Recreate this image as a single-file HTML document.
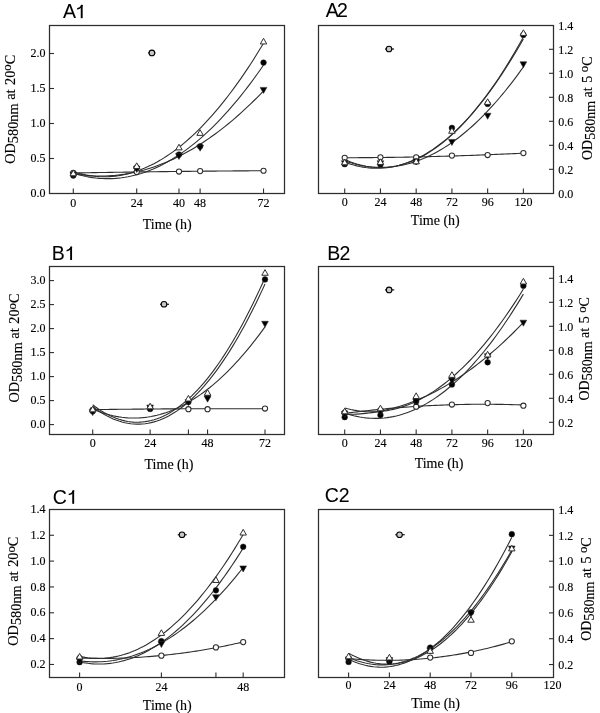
<!DOCTYPE html>
<html><head><meta charset="utf-8"><style>
html,body{margin:0;padding:0;background:#fff;}
svg{display:block;filter:grayscale(1);}
text{stroke:#000;stroke-width:0.14px;}
</style></head><body>
<svg width="600" height="713" viewBox="0 0 600 713">
<rect width="600" height="713" fill="#fff"/>
<path d="M73.3,173.01 L76.52,172.95 L79.75,172.89 L82.97,172.83 L86.2,172.78 L89.42,172.72 L92.64,172.66 L95.87,172.61 L99.09,172.56 L102.32,172.5 L105.54,172.45 L108.77,172.4 L111.99,172.35 L115.21,172.3 L118.44,172.25 L121.66,172.2 L124.89,172.15 L128.11,172.1 L131.33,172.06 L134.56,172.01 L137.78,171.96 L141.01,171.92 L144.23,171.87 L147.46,171.83 L150.68,171.79 L153.9,171.75 L157.13,171.7 L160.35,171.66 L163.58,171.62 L166.8,171.58 L170.02,171.55 L173.25,171.51 L176.47,171.47 L179.7,171.43 L182.92,171.4 L186.14,171.36 L189.37,171.33 L192.59,171.29 L195.82,171.26 L199.04,171.23 L202.27,171.2 L205.49,171.17 L208.71,171.14 L211.94,171.11 L215.16,171.08 L218.39,171.05 L221.61,171.02 L224.83,170.99 L228.06,170.97 L231.28,170.94 L234.51,170.92 L237.73,170.89 L240.96,170.87 L244.18,170.85 L247.4,170.83 L250.63,170.8 L253.85,170.78 L257.08,170.76 L260.3,170.74 L263.52,170.73" fill="none" stroke="#2e2e2e" stroke-width="1.1"/>
<path d="M73.3,173.16 L76.52,174.15 L79.75,175.03 L82.97,175.83 L86.2,176.52 L89.42,177.12 L92.64,177.62 L95.87,178.02 L99.09,178.33 L102.32,178.53 L105.54,178.65 L108.77,178.66 L111.99,178.58 L115.21,178.4 L118.44,178.12 L121.66,177.74 L124.89,177.27 L128.11,176.7 L131.33,176.04 L134.56,175.27 L137.78,174.41 L141.01,173.46 L144.23,172.4 L147.46,171.25 L150.68,170 L153.9,168.65 L157.13,167.21 L160.35,165.67 L163.58,164.03 L166.8,162.3 L170.02,160.46 L173.25,158.53 L176.47,156.51 L179.7,154.38 L182.92,152.16 L186.14,149.84 L189.37,147.43 L192.59,144.92 L195.82,142.31 L199.04,139.6 L202.27,136.8 L205.49,133.9 L208.71,130.9 L211.94,127.8 L215.16,124.61 L218.39,121.32 L221.61,117.93 L224.83,114.45 L228.06,110.87 L231.28,107.19 L234.51,103.41 L237.73,99.54 L240.96,95.57 L244.18,91.5 L247.4,87.34 L250.63,83.08 L253.85,78.72 L257.08,74.26 L260.3,69.71 L263.52,65.06" fill="none" stroke="#2e2e2e" stroke-width="1.1"/>
<path d="M73.3,173.6 L76.52,174.13 L79.75,174.6 L82.97,175 L86.2,175.33 L89.42,175.6 L92.64,175.8 L95.87,175.94 L99.09,176 L102.32,176 L105.54,175.94 L108.77,175.8 L111.99,175.6 L115.21,175.34 L118.44,175 L121.66,174.6 L124.89,174.14 L128.11,173.6 L131.33,173 L134.56,172.34 L137.78,171.6 L141.01,170.8 L144.23,169.94 L147.46,169 L150.68,168 L153.9,166.94 L157.13,165.8 L160.35,164.6 L163.58,163.33 L166.8,162 L170.02,160.6 L173.25,159.13 L176.47,157.6 L179.7,156 L182.92,154.33 L186.14,152.59 L189.37,150.79 L192.59,148.92 L195.82,146.99 L199.04,144.99 L202.27,142.92 L205.49,140.78 L208.71,138.58 L211.94,136.31 L215.16,133.98 L218.39,131.58 L221.61,129.11 L224.83,126.57 L228.06,123.97 L231.28,121.3 L234.51,118.57 L237.73,115.77 L240.96,112.9 L244.18,109.96 L247.4,106.96 L250.63,103.89 L253.85,100.75 L257.08,97.55 L260.3,94.28 L263.52,90.95" fill="none" stroke="#2e2e2e" stroke-width="1.1"/>
<path d="M73.3,171.76 L76.52,172.75 L79.75,173.62 L82.97,174.39 L86.2,175.05 L89.42,175.6 L92.64,176.04 L95.87,176.38 L99.09,176.6 L102.32,176.71 L105.54,176.72 L108.77,176.61 L111.99,176.4 L115.21,176.08 L118.44,175.65 L121.66,175.1 L124.89,174.45 L128.11,173.69 L131.33,172.83 L134.56,171.85 L137.78,170.76 L141.01,169.56 L144.23,168.26 L147.46,166.84 L150.68,165.32 L153.9,163.69 L157.13,161.95 L160.35,160.1 L163.58,158.14 L166.8,156.07 L170.02,153.89 L173.25,151.6 L176.47,149.2 L179.7,146.7 L182.92,144.08 L186.14,141.36 L189.37,138.52 L192.59,135.58 L195.82,132.53 L199.04,129.37 L202.27,126.1 L205.49,122.72 L208.71,119.23 L211.94,115.63 L215.16,111.92 L218.39,108.11 L221.61,104.18 L224.83,100.15 L228.06,96.01 L231.28,91.75 L234.51,87.39 L237.73,82.92 L240.96,78.34 L244.18,73.65 L247.4,68.85 L250.63,63.94 L253.85,58.93 L257.08,53.8 L260.3,48.57 L263.52,43.22" fill="none" stroke="#2e2e2e" stroke-width="1.1"/>
<circle cx="73.3" cy="172.99" r="2.6" fill="#fff" stroke="#2e2e2e" stroke-width="1.05"/>
<circle cx="136.71" cy="172.01" r="2.6" fill="#fff" stroke="#2e2e2e" stroke-width="1.05"/>
<circle cx="178.98" cy="171.52" r="2.6" fill="#fff" stroke="#2e2e2e" stroke-width="1.05"/>
<circle cx="200.12" cy="171.1" r="2.6" fill="#fff" stroke="#2e2e2e" stroke-width="1.05"/>
<circle cx="263.52" cy="170.75" r="2.6" fill="#fff" stroke="#2e2e2e" stroke-width="1.05"/>
<circle cx="73.3" cy="175.58" r="2.85" fill="#000" stroke="#2e2e2e" stroke-width="0.5"/>
<circle cx="136.71" cy="167.53" r="2.85" fill="#000" stroke="#2e2e2e" stroke-width="0.5"/>
<circle cx="178.98" cy="154.51" r="2.85" fill="#000" stroke="#2e2e2e" stroke-width="0.5"/>
<circle cx="200.12" cy="146.25" r="2.85" fill="#000" stroke="#2e2e2e" stroke-width="0.5"/>
<circle cx="263.52" cy="62.6" r="2.85" fill="#000" stroke="#2e2e2e" stroke-width="0.5"/>
<polygon points="69.95,172.1 76.65,172.1 73.3,178.1" fill="#000" stroke="#2e2e2e" stroke-width="0.6"/>
<polygon points="133.36,166.43 140.06,166.43 136.71,172.43" fill="#000" stroke="#2e2e2e" stroke-width="0.6"/>
<polygon points="175.63,153.48 182.33,153.48 178.98,159.48" fill="#000" stroke="#2e2e2e" stroke-width="0.6"/>
<polygon points="196.77,145.15 203.47,145.15 200.12,151.15" fill="#000" stroke="#2e2e2e" stroke-width="0.6"/>
<polygon points="260.17,87.4 266.87,87.4 263.52,93.4" fill="#000" stroke="#2e2e2e" stroke-width="0.6"/>
<polygon points="73.3,170.11 76.55,175.76 70.05,175.76" fill="#fff" stroke="#2e2e2e" stroke-width="1" stroke-linejoin="miter"/>
<polygon points="136.71,162.83 139.96,168.48 133.46,168.48" fill="#fff" stroke="#2e2e2e" stroke-width="1" stroke-linejoin="miter"/>
<polygon points="178.98,144.21 182.23,149.86 175.73,149.86" fill="#fff" stroke="#2e2e2e" stroke-width="1" stroke-linejoin="miter"/>
<polygon points="200.12,129.72 203.37,135.37 196.87,135.37" fill="#fff" stroke="#2e2e2e" stroke-width="1" stroke-linejoin="miter"/>
<polygon points="263.52,38.3 266.77,43.95 260.27,43.95" fill="#fff" stroke="#2e2e2e" stroke-width="1" stroke-linejoin="miter"/>
<line x1="148" y1="52.9" x2="155.5" y2="52.9" stroke="#000" stroke-width="1.1"/>
<circle cx="151.9" cy="52.9" r="2.8" fill="#c8c8c8" stroke="#000" stroke-width="1.1"/>
<rect x="49.5" y="25.5" width="235" height="168" fill="none" stroke="#2e2e2e" stroke-width="1.25"/>
<line x1="73.3" y1="193.5" x2="73.3" y2="188.5" stroke="#2e2e2e" stroke-width="1.1"/>
<line x1="136.71" y1="193.5" x2="136.71" y2="188.5" stroke="#2e2e2e" stroke-width="1.1"/>
<line x1="178.98" y1="193.5" x2="178.98" y2="188.5" stroke="#2e2e2e" stroke-width="1.1"/>
<line x1="200.12" y1="193.5" x2="200.12" y2="188.5" stroke="#2e2e2e" stroke-width="1.1"/>
<line x1="263.52" y1="193.5" x2="263.52" y2="188.5" stroke="#2e2e2e" stroke-width="1.1"/>
<text x="73.3" y="206.7" text-anchor="middle" font-family='"Liberation Serif", serif' font-size="12">0</text>
<text x="136.71" y="206.7" text-anchor="middle" font-family='"Liberation Serif", serif' font-size="12">24</text>
<text x="178.98" y="206.7" text-anchor="middle" font-family='"Liberation Serif", serif' font-size="12">40</text>
<text x="200.12" y="206.7" text-anchor="middle" font-family='"Liberation Serif", serif' font-size="12">48</text>
<text x="263.52" y="206.7" text-anchor="middle" font-family='"Liberation Serif", serif' font-size="12">72</text>
<text x="45.6" y="197.1" text-anchor="end" font-family='"Liberation Serif", serif' font-size="12">0.0</text>
<line x1="49.5" y1="158.5" x2="54" y2="158.5" stroke="#2e2e2e" stroke-width="1.1"/>
<text x="45.6" y="162.1" text-anchor="end" font-family='"Liberation Serif", serif' font-size="12">0.5</text>
<line x1="49.5" y1="123.5" x2="54" y2="123.5" stroke="#2e2e2e" stroke-width="1.1"/>
<text x="45.6" y="127.1" text-anchor="end" font-family='"Liberation Serif", serif' font-size="12">1.0</text>
<line x1="49.5" y1="88.5" x2="54" y2="88.5" stroke="#2e2e2e" stroke-width="1.1"/>
<text x="45.6" y="92.1" text-anchor="end" font-family='"Liberation Serif", serif' font-size="12">1.5</text>
<line x1="49.5" y1="53.5" x2="54" y2="53.5" stroke="#2e2e2e" stroke-width="1.1"/>
<text x="45.6" y="57.1" text-anchor="end" font-family='"Liberation Serif", serif' font-size="12">2.0</text>
<text x="167.15" y="228.5" text-anchor="middle" font-family='"Liberation Serif", serif' font-size="14">Time (h)</text>
<text x="63" y="18.2" font-family='"Liberation Sans", sans-serif' font-size="19.5" style="stroke-width:0.05px">A</text>
<path d="M81.7,5 V18.2" stroke="#000" stroke-width="1.9" fill="none"/>
<path d="M82.3,4.8 L81.1,6.8 C80.1,8.1 78.7,8.7 77.2,8.9" stroke="#000" stroke-width="1.6" fill="none"/>
<text transform="translate(14.9,163.8) rotate(-90)" font-family='"Liberation Serif", serif' font-size="14.3">OD<tspan dy="2.9">580nm</tspan><tspan dy="-2.9"> at </tspan><tspan dx="1">20</tspan><tspan dy="-3.7" font-size="12.8">o</tspan><tspan dy="3.7">C</tspan></text>
<path d="M344.7,157.73 L347.73,157.72 L350.76,157.71 L353.79,157.7 L356.81,157.69 L359.84,157.67 L362.87,157.66 L365.9,157.64 L368.93,157.61 L371.96,157.59 L374.98,157.56 L378.01,157.53 L381.04,157.5 L384.07,157.46 L387.1,157.42 L390.13,157.38 L393.16,157.34 L396.18,157.29 L399.21,157.25 L402.24,157.2 L405.27,157.14 L408.3,157.09 L411.33,157.03 L414.35,156.97 L417.38,156.91 L420.41,156.84 L423.44,156.78 L426.47,156.71 L429.5,156.63 L432.53,156.56 L435.55,156.48 L438.58,156.4 L441.61,156.32 L444.64,156.23 L447.67,156.15 L450.7,156.06 L453.73,155.97 L456.75,155.87 L459.78,155.77 L462.81,155.67 L465.84,155.57 L468.87,155.47 L471.9,155.36 L474.92,155.25 L477.95,155.14 L480.98,155.03 L484.01,154.91 L487.04,154.79 L490.07,154.67 L493.1,154.54 L496.12,154.42 L499.15,154.29 L502.18,154.16 L505.21,154.02 L508.24,153.89 L511.27,153.75 L514.29,153.61 L517.32,153.46 L520.35,153.32 L523.38,153.17" fill="none" stroke="#2e2e2e" stroke-width="1.1"/>
<path d="M344.7,162.04 L347.73,163.16 L350.76,164.17 L353.79,165.06 L356.81,165.85 L359.84,166.53 L362.87,167.09 L365.9,167.55 L368.93,167.89 L371.96,168.13 L374.98,168.25 L378.01,168.26 L381.04,168.17 L384.07,167.96 L387.1,167.64 L390.13,167.21 L393.16,166.67 L396.18,166.02 L399.21,165.26 L402.24,164.39 L405.27,163.41 L408.3,162.32 L411.33,161.12 L414.35,159.8 L417.38,158.38 L420.41,156.85 L423.44,155.2 L426.47,153.45 L429.5,151.58 L432.53,149.61 L435.55,147.52 L438.58,145.32 L441.61,143.02 L444.64,140.6 L447.67,138.07 L450.7,135.43 L453.73,132.68 L456.75,129.82 L459.78,126.85 L462.81,123.77 L465.84,120.58 L468.87,117.28 L471.9,113.87 L474.92,110.34 L477.95,106.71 L480.98,102.97 L484.01,99.11 L487.04,95.15 L490.07,91.07 L493.1,86.89 L496.12,82.59 L499.15,78.19 L502.18,73.67 L505.21,69.04 L508.24,64.3 L511.27,59.45 L514.29,54.49 L517.32,49.43 L520.35,44.24 L523.38,38.95" fill="none" stroke="#2e2e2e" stroke-width="1.1"/>
<path d="M344.7,160.84 L347.73,161.88 L350.76,162.84 L353.79,163.71 L356.81,164.48 L359.84,165.17 L362.87,165.76 L365.9,166.26 L368.93,166.67 L371.96,166.99 L374.98,167.22 L378.01,167.36 L381.04,167.41 L384.07,167.36 L387.1,167.23 L390.13,167 L393.16,166.69 L396.18,166.28 L399.21,165.78 L402.24,165.19 L405.27,164.51 L408.3,163.74 L411.33,162.87 L414.35,161.92 L417.38,160.88 L420.41,159.74 L423.44,158.51 L426.47,157.19 L429.5,155.79 L432.53,154.29 L435.55,152.69 L438.58,151.01 L441.61,149.24 L444.64,147.37 L447.67,145.42 L450.7,143.37 L453.73,141.24 L456.75,139.01 L459.78,136.69 L462.81,134.28 L465.84,131.78 L468.87,129.19 L471.9,126.5 L474.92,123.73 L477.95,120.86 L480.98,117.91 L484.01,114.86 L487.04,111.72 L490.07,108.49 L493.1,105.17 L496.12,101.76 L499.15,98.26 L502.18,94.66 L505.21,90.98 L508.24,87.2 L511.27,83.34 L514.29,79.38 L517.32,75.33 L520.35,71.19 L523.38,66.96" fill="none" stroke="#2e2e2e" stroke-width="1.1"/>
<path d="M344.7,159.46 L347.73,160.78 L350.76,161.97 L353.79,163.06 L356.81,164.02 L359.84,164.87 L362.87,165.6 L365.9,166.21 L368.93,166.71 L371.96,167.09 L374.98,167.36 L378.01,167.5 L381.04,167.53 L384.07,167.44 L387.1,167.24 L390.13,166.92 L393.16,166.48 L396.18,165.92 L399.21,165.25 L402.24,164.46 L405.27,163.55 L408.3,162.53 L411.33,161.39 L414.35,160.13 L417.38,158.76 L420.41,157.27 L423.44,155.66 L426.47,153.93 L429.5,152.09 L432.53,150.13 L435.55,148.06 L438.58,145.86 L441.61,143.55 L444.64,141.13 L447.67,138.58 L450.7,135.92 L453.73,133.15 L456.75,130.25 L459.78,127.24 L462.81,124.11 L465.84,120.86 L468.87,117.5 L471.9,114.02 L474.92,110.43 L477.95,106.71 L480.98,102.88 L484.01,98.93 L487.04,94.87 L490.07,90.69 L493.1,86.39 L496.12,81.97 L499.15,77.44 L502.18,72.79 L505.21,68.03 L508.24,63.14 L511.27,58.14 L514.29,53.03 L517.32,47.79 L520.35,42.44 L523.38,36.97" fill="none" stroke="#2e2e2e" stroke-width="1.1"/>
<circle cx="344.7" cy="157.78" r="2.6" fill="#fff" stroke="#2e2e2e" stroke-width="1.05"/>
<circle cx="380.44" cy="157.3" r="2.6" fill="#fff" stroke="#2e2e2e" stroke-width="1.05"/>
<circle cx="416.17" cy="157.3" r="2.6" fill="#fff" stroke="#2e2e2e" stroke-width="1.05"/>
<circle cx="451.91" cy="155.62" r="2.6" fill="#fff" stroke="#2e2e2e" stroke-width="1.05"/>
<circle cx="487.64" cy="155.02" r="2.6" fill="#fff" stroke="#2e2e2e" stroke-width="1.05"/>
<circle cx="523.38" cy="153.1" r="2.6" fill="#fff" stroke="#2e2e2e" stroke-width="1.05"/>
<circle cx="344.7" cy="164.14" r="2.85" fill="#000" stroke="#2e2e2e" stroke-width="0.5"/>
<circle cx="380.44" cy="164.5" r="2.85" fill="#000" stroke="#2e2e2e" stroke-width="0.5"/>
<circle cx="416.17" cy="161.5" r="2.85" fill="#000" stroke="#2e2e2e" stroke-width="0.5"/>
<circle cx="451.91" cy="127.9" r="2.85" fill="#000" stroke="#2e2e2e" stroke-width="0.5"/>
<circle cx="487.64" cy="103.9" r="2.85" fill="#000" stroke="#2e2e2e" stroke-width="0.5"/>
<circle cx="523.38" cy="34.9" r="2.85" fill="#000" stroke="#2e2e2e" stroke-width="0.5"/>
<polygon points="341.35,160.8 348.05,160.8 344.7,166.8" fill="#000" stroke="#2e2e2e" stroke-width="0.6"/>
<polygon points="377.09,160.8 383.79,160.8 380.44,166.8" fill="#000" stroke="#2e2e2e" stroke-width="0.6"/>
<polygon points="412.82,159 419.52,159 416.17,165" fill="#000" stroke="#2e2e2e" stroke-width="0.6"/>
<polygon points="448.56,139.44 455.26,139.44 451.91,145.44" fill="#000" stroke="#2e2e2e" stroke-width="0.6"/>
<polygon points="484.29,113.28 490.99,113.28 487.64,119.28" fill="#000" stroke="#2e2e2e" stroke-width="0.6"/>
<polygon points="520.03,61.8 526.73,61.8 523.38,67.8" fill="#000" stroke="#2e2e2e" stroke-width="0.6"/>
<polygon points="344.7,159.16 347.95,164.81 341.45,164.81" fill="#fff" stroke="#2e2e2e" stroke-width="1" stroke-linejoin="miter"/>
<polygon points="380.44,158.8 383.69,164.45 377.19,164.45" fill="#fff" stroke="#2e2e2e" stroke-width="1" stroke-linejoin="miter"/>
<polygon points="416.17,158.2 419.42,163.85 412.92,163.85" fill="#fff" stroke="#2e2e2e" stroke-width="1" stroke-linejoin="miter"/>
<polygon points="451.91,127.6 455.16,133.25 448.66,133.25" fill="#fff" stroke="#2e2e2e" stroke-width="1" stroke-linejoin="miter"/>
<polygon points="487.64,98.8 490.89,104.45 484.39,104.45" fill="#fff" stroke="#2e2e2e" stroke-width="1" stroke-linejoin="miter"/>
<polygon points="523.38,29.8 526.63,35.45 520.13,35.45" fill="#fff" stroke="#2e2e2e" stroke-width="1" stroke-linejoin="miter"/>
<line x1="385" y1="49" x2="394" y2="49" stroke="#000" stroke-width="1.1"/>
<circle cx="389" cy="49" r="2.8" fill="#c8c8c8" stroke="#000" stroke-width="1.1"/>
<rect x="318.5" y="25.5" width="235" height="168" fill="none" stroke="#2e2e2e" stroke-width="1.25"/>
<line x1="344.7" y1="193.5" x2="344.7" y2="188.5" stroke="#2e2e2e" stroke-width="1.1"/>
<line x1="380.44" y1="193.5" x2="380.44" y2="188.5" stroke="#2e2e2e" stroke-width="1.1"/>
<line x1="416.17" y1="193.5" x2="416.17" y2="188.5" stroke="#2e2e2e" stroke-width="1.1"/>
<line x1="451.91" y1="193.5" x2="451.91" y2="188.5" stroke="#2e2e2e" stroke-width="1.1"/>
<line x1="487.64" y1="193.5" x2="487.64" y2="188.5" stroke="#2e2e2e" stroke-width="1.1"/>
<line x1="523.38" y1="193.5" x2="523.38" y2="188.5" stroke="#2e2e2e" stroke-width="1.1"/>
<text x="344.7" y="206.3" text-anchor="middle" font-family='"Liberation Serif", serif' font-size="12">0</text>
<text x="380.44" y="206.3" text-anchor="middle" font-family='"Liberation Serif", serif' font-size="12">24</text>
<text x="416.17" y="206.3" text-anchor="middle" font-family='"Liberation Serif", serif' font-size="12">48</text>
<text x="451.91" y="206.3" text-anchor="middle" font-family='"Liberation Serif", serif' font-size="12">72</text>
<text x="487.64" y="206.3" text-anchor="middle" font-family='"Liberation Serif", serif' font-size="12">96</text>
<text x="523.38" y="206.3" text-anchor="middle" font-family='"Liberation Serif", serif' font-size="12">120</text>
<text x="558.3" y="197.5" font-family='"Liberation Serif", serif' font-size="12">0.0</text>
<line x1="553.5" y1="169.3" x2="549" y2="169.3" stroke="#2e2e2e" stroke-width="1.1"/>
<text x="558.3" y="173.5" font-family='"Liberation Serif", serif' font-size="12">0.2</text>
<line x1="553.5" y1="145.3" x2="549" y2="145.3" stroke="#2e2e2e" stroke-width="1.1"/>
<text x="558.3" y="149.5" font-family='"Liberation Serif", serif' font-size="12">0.4</text>
<line x1="553.5" y1="121.3" x2="549" y2="121.3" stroke="#2e2e2e" stroke-width="1.1"/>
<text x="558.3" y="125.5" font-family='"Liberation Serif", serif' font-size="12">0.6</text>
<line x1="553.5" y1="97.3" x2="549" y2="97.3" stroke="#2e2e2e" stroke-width="1.1"/>
<text x="558.3" y="101.5" font-family='"Liberation Serif", serif' font-size="12">0.8</text>
<line x1="553.5" y1="73.3" x2="549" y2="73.3" stroke="#2e2e2e" stroke-width="1.1"/>
<text x="558.3" y="77.5" font-family='"Liberation Serif", serif' font-size="12">1.0</text>
<line x1="553.5" y1="49.3" x2="549" y2="49.3" stroke="#2e2e2e" stroke-width="1.1"/>
<text x="558.3" y="53.5" font-family='"Liberation Serif", serif' font-size="12">1.2</text>
<text x="558.3" y="29.5" font-family='"Liberation Serif", serif' font-size="12">1.4</text>
<text x="435.3" y="225.4" text-anchor="middle" font-family='"Liberation Serif", serif' font-size="14">Time (h)</text>
<text x="325.8" y="17.1" font-family='"Liberation Sans", sans-serif' font-size="19.5" style="stroke-width:0.05px">A</text>
<text x="337.0" y="17.1" font-family='"Liberation Sans", sans-serif' font-size="19.5" style="stroke-width:0.05px">2</text>
<text transform="translate(592,160.0) rotate(-90)" font-family='"Liberation Serif", serif' font-size="14.0">OD<tspan dy="2.9">580nm</tspan><tspan dy="-2.9"> at </tspan><tspan dx="1">5 </tspan><tspan dy="-3.7" font-size="12.8">o</tspan><tspan dy="3.7">C</tspan></text>
<path d="M92.7,409.65 L95.62,409.61 L98.54,409.57 L101.46,409.53 L104.38,409.5 L107.3,409.46 L110.22,409.42 L113.14,409.39 L116.06,409.35 L118.98,409.32 L121.9,409.29 L124.82,409.25 L127.74,409.22 L130.66,409.19 L133.58,409.16 L136.5,409.14 L139.42,409.11 L142.34,409.08 L145.26,409.06 L148.19,409.03 L151.11,409.01 L154.03,408.99 L156.95,408.96 L159.87,408.94 L162.79,408.92 L165.71,408.9 L168.63,408.88 L171.55,408.87 L174.47,408.85 L177.39,408.83 L180.31,408.82 L183.23,408.81 L186.15,408.79 L189.07,408.78 L191.99,408.77 L194.91,408.76 L197.83,408.75 L200.75,408.74 L203.67,408.73 L206.59,408.73 L209.51,408.72 L212.43,408.72 L215.35,408.71 L218.27,408.71 L221.19,408.71 L224.11,408.7 L227.03,408.7 L229.95,408.7 L232.87,408.7 L235.79,408.71 L238.71,408.71 L241.63,408.71 L244.55,408.72 L247.47,408.72 L250.39,408.73 L253.31,408.74 L256.24,408.75 L259.16,408.76 L262.08,408.77 L265,408.78" fill="none" stroke="#2e2e2e" stroke-width="1.1"/>
<path d="M92.7,406.55 L95.62,408.75 L98.54,410.82 L101.46,412.73 L104.38,414.49 L107.3,416.11 L110.22,417.58 L113.14,418.9 L116.06,420.08 L118.98,421.1 L121.9,421.98 L124.82,422.71 L127.74,423.3 L130.66,423.73 L133.58,424.02 L136.5,424.16 L139.42,424.15 L142.34,424 L145.26,423.69 L148.19,423.24 L151.11,422.64 L154.03,421.89 L156.95,421 L159.87,419.96 L162.79,418.77 L165.71,417.43 L168.63,415.94 L171.55,414.31 L174.47,412.53 L177.39,410.6 L180.31,408.52 L183.23,406.3 L186.15,403.93 L189.07,401.4 L191.99,398.74 L194.91,395.92 L197.83,392.96 L200.75,389.85 L203.67,386.59 L206.59,383.18 L209.51,379.63 L212.43,375.92 L215.35,372.07 L218.27,368.07 L221.19,363.93 L224.11,359.64 L227.03,355.19 L229.95,350.6 L232.87,345.87 L235.79,340.98 L238.71,335.95 L241.63,330.77 L244.55,325.44 L247.47,319.97 L250.39,314.34 L253.31,308.57 L256.24,302.65 L259.16,296.58 L262.08,290.37 L265,284.01" fill="none" stroke="#2e2e2e" stroke-width="1.1"/>
<path d="M92.7,409.05 L95.62,410.29 L98.54,411.43 L101.46,412.48 L104.38,413.43 L107.3,414.3 L110.22,415.08 L113.14,415.77 L116.06,416.37 L118.98,416.87 L121.9,417.29 L124.82,417.62 L127.74,417.85 L130.66,418 L133.58,418.05 L136.5,418.02 L139.42,417.89 L142.34,417.67 L145.26,417.37 L148.19,416.97 L151.11,416.48 L154.03,415.9 L156.95,415.23 L159.87,414.47 L162.79,413.63 L165.71,412.68 L168.63,411.65 L171.55,410.53 L174.47,409.32 L177.39,408.02 L180.31,406.63 L183.23,405.14 L186.15,403.57 L189.07,401.91 L191.99,400.15 L194.91,398.31 L197.83,396.37 L200.75,394.35 L203.67,392.23 L206.59,390.02 L209.51,387.73 L212.43,385.34 L215.35,382.86 L218.27,380.29 L221.19,377.63 L224.11,374.88 L227.03,372.04 L229.95,369.11 L232.87,366.09 L235.79,362.98 L238.71,359.78 L241.63,356.49 L244.55,353.1 L247.47,349.63 L250.39,346.07 L253.31,342.41 L256.24,338.67 L259.16,334.83 L262.08,330.91 L265,326.89" fill="none" stroke="#2e2e2e" stroke-width="1.1"/>
<path d="M92.7,404.72 L95.62,406.94 L98.54,409.01 L101.46,410.93 L104.38,412.7 L107.3,414.32 L110.22,415.78 L113.14,417.1 L116.06,418.27 L118.98,419.28 L121.9,420.14 L124.82,420.86 L127.74,421.42 L130.66,421.83 L133.58,422.09 L136.5,422.2 L139.42,422.16 L142.34,421.97 L145.26,421.62 L148.19,421.13 L151.11,420.49 L154.03,419.69 L156.95,418.74 L159.87,417.65 L162.79,416.4 L165.71,415 L168.63,413.45 L171.55,411.75 L174.47,409.9 L177.39,407.9 L180.31,405.75 L183.23,403.44 L186.15,400.99 L189.07,398.38 L191.99,395.63 L194.91,392.72 L197.83,389.66 L200.75,386.45 L203.67,383.09 L206.59,379.58 L209.51,375.92 L212.43,372.11 L215.35,368.15 L218.27,364.04 L221.19,359.77 L224.11,355.36 L227.03,350.79 L229.95,346.07 L232.87,341.21 L235.79,336.19 L238.71,331.02 L241.63,325.7 L244.55,320.23 L247.47,314.61 L250.39,308.84 L253.31,302.91 L256.24,296.84 L259.16,290.61 L262.08,284.24 L265,277.71" fill="none" stroke="#2e2e2e" stroke-width="1.1"/>
<circle cx="92.7" cy="409.96" r="2.6" fill="#fff" stroke="#2e2e2e" stroke-width="1.05"/>
<circle cx="150.13" cy="407.99" r="2.6" fill="#fff" stroke="#2e2e2e" stroke-width="1.05"/>
<circle cx="188.42" cy="409.24" r="2.6" fill="#fff" stroke="#2e2e2e" stroke-width="1.05"/>
<circle cx="207.56" cy="409.24" r="2.6" fill="#fff" stroke="#2e2e2e" stroke-width="1.05"/>
<circle cx="265" cy="408.52" r="2.6" fill="#fff" stroke="#2e2e2e" stroke-width="1.05"/>
<circle cx="92.7" cy="411.16" r="2.85" fill="#000" stroke="#2e2e2e" stroke-width="0.5"/>
<circle cx="150.13" cy="409" r="2.85" fill="#000" stroke="#2e2e2e" stroke-width="0.5"/>
<circle cx="188.42" cy="402.04" r="2.85" fill="#000" stroke="#2e2e2e" stroke-width="0.5"/>
<circle cx="207.56" cy="395.8" r="2.85" fill="#000" stroke="#2e2e2e" stroke-width="0.5"/>
<circle cx="265" cy="279.4" r="2.85" fill="#000" stroke="#2e2e2e" stroke-width="0.5"/>
<polygon points="89.35,409.62 96.05,409.62 92.7,415.62" fill="#000" stroke="#2e2e2e" stroke-width="0.6"/>
<polygon points="146.78,405.01 153.48,405.01 150.13,411.01" fill="#000" stroke="#2e2e2e" stroke-width="0.6"/>
<polygon points="185.07,399.54 191.77,399.54 188.42,405.54" fill="#000" stroke="#2e2e2e" stroke-width="0.6"/>
<polygon points="204.21,396.18 210.91,396.18 207.56,402.18" fill="#000" stroke="#2e2e2e" stroke-width="0.6"/>
<polygon points="261.65,321.3 268.35,321.3 265,327.3" fill="#000" stroke="#2e2e2e" stroke-width="0.6"/>
<polygon points="92.7,406.18 95.95,411.83 89.45,411.83" fill="#fff" stroke="#2e2e2e" stroke-width="1" stroke-linejoin="miter"/>
<polygon points="150.13,403.2 153.38,408.85 146.88,408.85" fill="#fff" stroke="#2e2e2e" stroke-width="1" stroke-linejoin="miter"/>
<polygon points="188.42,395.38 191.67,401.03 185.17,401.03" fill="#fff" stroke="#2e2e2e" stroke-width="1" stroke-linejoin="miter"/>
<polygon points="207.56,389.62 210.81,395.27 204.31,395.27" fill="#fff" stroke="#2e2e2e" stroke-width="1" stroke-linejoin="miter"/>
<polygon points="265,269.62 268.25,275.27 261.75,275.27" fill="#fff" stroke="#2e2e2e" stroke-width="1" stroke-linejoin="miter"/>
<line x1="160" y1="304.25" x2="169" y2="304.25" stroke="#000" stroke-width="1.1"/>
<circle cx="164" cy="304.25" r="2.8" fill="#c8c8c8" stroke="#000" stroke-width="1.1"/>
<rect x="49.5" y="266.5" width="235" height="168" fill="none" stroke="#2e2e2e" stroke-width="1.25"/>
<line x1="92.7" y1="434.5" x2="92.7" y2="429.5" stroke="#2e2e2e" stroke-width="1.1"/>
<line x1="150.13" y1="434.5" x2="150.13" y2="429.5" stroke="#2e2e2e" stroke-width="1.1"/>
<line x1="188.42" y1="434.5" x2="188.42" y2="429.5" stroke="#2e2e2e" stroke-width="1.1"/>
<line x1="207.56" y1="434.5" x2="207.56" y2="429.5" stroke="#2e2e2e" stroke-width="1.1"/>
<line x1="265" y1="434.5" x2="265" y2="429.5" stroke="#2e2e2e" stroke-width="1.1"/>
<text x="92.7" y="447.3" text-anchor="middle" font-family='"Liberation Serif", serif' font-size="12">0</text>
<text x="150.13" y="447.3" text-anchor="middle" font-family='"Liberation Serif", serif' font-size="12">24</text>
<text x="207.56" y="447.3" text-anchor="middle" font-family='"Liberation Serif", serif' font-size="12">48</text>
<text x="265" y="447.3" text-anchor="middle" font-family='"Liberation Serif", serif' font-size="12">72</text>
<line x1="49.5" y1="424.6" x2="54" y2="424.6" stroke="#2e2e2e" stroke-width="1.1"/>
<text x="45.6" y="428.2" text-anchor="end" font-family='"Liberation Serif", serif' font-size="12">0.0</text>
<line x1="49.5" y1="400.6" x2="54" y2="400.6" stroke="#2e2e2e" stroke-width="1.1"/>
<text x="45.6" y="404.2" text-anchor="end" font-family='"Liberation Serif", serif' font-size="12">0.5</text>
<line x1="49.5" y1="376.6" x2="54" y2="376.6" stroke="#2e2e2e" stroke-width="1.1"/>
<text x="45.6" y="380.2" text-anchor="end" font-family='"Liberation Serif", serif' font-size="12">1.0</text>
<line x1="49.5" y1="352.6" x2="54" y2="352.6" stroke="#2e2e2e" stroke-width="1.1"/>
<text x="45.6" y="356.2" text-anchor="end" font-family='"Liberation Serif", serif' font-size="12">1.5</text>
<line x1="49.5" y1="328.6" x2="54" y2="328.6" stroke="#2e2e2e" stroke-width="1.1"/>
<text x="45.6" y="332.2" text-anchor="end" font-family='"Liberation Serif", serif' font-size="12">2.0</text>
<line x1="49.5" y1="304.6" x2="54" y2="304.6" stroke="#2e2e2e" stroke-width="1.1"/>
<text x="45.6" y="308.2" text-anchor="end" font-family='"Liberation Serif", serif' font-size="12">2.5</text>
<line x1="49.5" y1="280.6" x2="54" y2="280.6" stroke="#2e2e2e" stroke-width="1.1"/>
<text x="45.6" y="284.2" text-anchor="end" font-family='"Liberation Serif", serif' font-size="12">3.0</text>
<text x="169.0" y="468.6" text-anchor="middle" font-family='"Liberation Serif", serif' font-size="14">Time (h)</text>
<text x="51.8" y="260" font-family='"Liberation Sans", sans-serif' font-size="19.5" style="stroke-width:0.05px">B</text>
<path d="M71.1,246.8 V260" stroke="#000" stroke-width="1.9" fill="none"/>
<path d="M71.7,246.6 L70.5,248.6 C69.5,249.9 68.1,250.5 66.6,250.7" stroke="#000" stroke-width="1.6" fill="none"/>
<text transform="translate(19.4,402.6) rotate(-90)" font-family='"Liberation Serif", serif' font-size="14.3">OD<tspan dy="2.9">580nm</tspan><tspan dy="-2.9"> at </tspan><tspan dx="1">20</tspan><tspan dy="-3.7" font-size="12.8">o</tspan><tspan dy="3.7">C</tspan></text>
<path d="M344.7,413.38 L347.73,412.98 L350.76,412.6 L353.79,412.22 L356.81,411.86 L359.84,411.5 L362.87,411.15 L365.9,410.8 L368.93,410.47 L371.96,410.15 L374.98,409.83 L378.01,409.53 L381.04,409.23 L384.07,408.94 L387.1,408.66 L390.13,408.39 L393.16,408.12 L396.18,407.87 L399.21,407.62 L402.24,407.38 L405.27,407.16 L408.3,406.94 L411.33,406.73 L414.35,406.52 L417.38,406.33 L420.41,406.14 L423.44,405.97 L426.47,405.8 L429.5,405.64 L432.53,405.49 L435.55,405.35 L438.58,405.21 L441.61,405.09 L444.64,404.97 L447.67,404.87 L450.7,404.77 L453.73,404.68 L456.75,404.6 L459.78,404.53 L462.81,404.46 L465.84,404.41 L468.87,404.36 L471.9,404.32 L474.92,404.29 L477.95,404.27 L480.98,404.26 L484.01,404.26 L487.04,404.27 L490.07,404.28 L493.1,404.3 L496.12,404.33 L499.15,404.38 L502.18,404.42 L505.21,404.48 L508.24,404.55 L511.27,404.62 L514.29,404.71 L517.32,404.8 L520.35,404.9 L523.38,405.01" fill="none" stroke="#2e2e2e" stroke-width="1.1"/>
<path d="M344.7,412.96 L347.73,413.97 L350.76,414.87 L353.79,415.67 L356.81,416.37 L359.84,416.96 L362.87,417.45 L365.9,417.84 L368.93,418.12 L371.96,418.29 L374.98,418.36 L378.01,418.33 L381.04,418.19 L384.07,417.95 L387.1,417.61 L390.13,417.16 L393.16,416.6 L396.18,415.94 L399.21,415.18 L402.24,414.32 L405.27,413.34 L408.3,412.27 L411.33,411.09 L414.35,409.8 L417.38,408.42 L420.41,406.92 L423.44,405.33 L426.47,403.62 L429.5,401.82 L432.53,399.91 L435.55,397.89 L438.58,395.78 L441.61,393.55 L444.64,391.23 L447.67,388.8 L450.7,386.26 L453.73,383.62 L456.75,380.88 L459.78,378.03 L462.81,375.08 L465.84,372.02 L468.87,368.86 L471.9,365.59 L474.92,362.22 L477.95,358.75 L480.98,355.17 L484.01,351.49 L487.04,347.7 L490.07,343.81 L493.1,339.81 L496.12,335.71 L499.15,331.51 L502.18,327.2 L505.21,322.79 L508.24,318.27 L511.27,313.65 L514.29,308.92 L517.32,304.1 L520.35,299.16 L523.38,294.12" fill="none" stroke="#2e2e2e" stroke-width="1.1"/>
<path d="M344.7,414.29 L347.73,414.32 L350.76,414.3 L353.79,414.22 L356.81,414.08 L359.84,413.89 L362.87,413.65 L365.9,413.35 L368.93,413 L371.96,412.59 L374.98,412.13 L378.01,411.61 L381.04,411.04 L384.07,410.41 L387.1,409.73 L390.13,408.99 L393.16,408.2 L396.18,407.36 L399.21,406.46 L402.24,405.5 L405.27,404.49 L408.3,403.43 L411.33,402.31 L414.35,401.14 L417.38,399.91 L420.41,398.63 L423.44,397.29 L426.47,395.9 L429.5,394.45 L432.53,392.95 L435.55,391.4 L438.58,389.78 L441.61,388.12 L444.64,386.4 L447.67,384.62 L450.7,382.8 L453.73,380.91 L456.75,378.97 L459.78,376.98 L462.81,374.93 L465.84,372.83 L468.87,370.67 L471.9,368.46 L474.92,366.19 L477.95,363.87 L480.98,361.5 L484.01,359.07 L487.04,356.58 L490.07,354.04 L493.1,351.45 L496.12,348.8 L499.15,346.09 L502.18,343.33 L505.21,340.52 L508.24,337.65 L511.27,334.73 L514.29,331.75 L517.32,328.72 L520.35,325.64 L523.38,322.49" fill="none" stroke="#2e2e2e" stroke-width="1.1"/>
<path d="M344.7,407.93 L347.73,408.76 L350.76,409.49 L353.79,410.12 L356.81,410.65 L359.84,411.08 L362.87,411.42 L365.9,411.66 L368.93,411.8 L371.96,411.84 L374.98,411.79 L378.01,411.64 L381.04,411.38 L384.07,411.04 L387.1,410.59 L390.13,410.04 L393.16,409.4 L396.18,408.66 L399.21,407.82 L402.24,406.88 L405.27,405.85 L408.3,404.72 L411.33,403.49 L414.35,402.16 L417.38,400.73 L420.41,399.21 L423.44,397.58 L426.47,395.86 L429.5,394.05 L432.53,392.13 L435.55,390.11 L438.58,388 L441.61,385.79 L444.64,383.48 L447.67,381.08 L450.7,378.57 L453.73,375.97 L456.75,373.27 L459.78,370.47 L462.81,367.58 L465.84,364.58 L468.87,361.49 L471.9,358.3 L474.92,355.01 L477.95,351.63 L480.98,348.14 L484.01,344.56 L487.04,340.88 L490.07,337.1 L493.1,333.23 L496.12,329.25 L499.15,325.18 L502.18,321.01 L505.21,316.74 L508.24,312.38 L511.27,307.91 L514.29,303.35 L517.32,298.69 L520.35,293.93 L523.38,289.08" fill="none" stroke="#2e2e2e" stroke-width="1.1"/>
<circle cx="344.7" cy="412.7" r="2.6" fill="#fff" stroke="#2e2e2e" stroke-width="1.05"/>
<circle cx="380.44" cy="410.3" r="2.6" fill="#fff" stroke="#2e2e2e" stroke-width="1.05"/>
<circle cx="416.17" cy="406.7" r="2.6" fill="#fff" stroke="#2e2e2e" stroke-width="1.05"/>
<circle cx="451.91" cy="404.54" r="2.6" fill="#fff" stroke="#2e2e2e" stroke-width="1.05"/>
<circle cx="487.64" cy="403.1" r="2.6" fill="#fff" stroke="#2e2e2e" stroke-width="1.05"/>
<circle cx="523.38" cy="405.74" r="2.6" fill="#fff" stroke="#2e2e2e" stroke-width="1.05"/>
<circle cx="344.7" cy="417.14" r="2.85" fill="#000" stroke="#2e2e2e" stroke-width="0.5"/>
<circle cx="380.44" cy="415.1" r="2.85" fill="#000" stroke="#2e2e2e" stroke-width="0.5"/>
<circle cx="416.17" cy="401.54" r="2.85" fill="#000" stroke="#2e2e2e" stroke-width="0.5"/>
<circle cx="451.91" cy="384.5" r="2.85" fill="#000" stroke="#2e2e2e" stroke-width="0.5"/>
<circle cx="487.64" cy="362.3" r="2.85" fill="#000" stroke="#2e2e2e" stroke-width="0.5"/>
<circle cx="523.38" cy="285.86" r="2.85" fill="#000" stroke="#2e2e2e" stroke-width="0.5"/>
<polygon points="341.35,411.4 348.05,411.4 344.7,417.4" fill="#000" stroke="#2e2e2e" stroke-width="0.6"/>
<polygon points="377.09,409 383.79,409 380.44,415" fill="#000" stroke="#2e2e2e" stroke-width="0.6"/>
<polygon points="412.82,399.04 419.52,399.04 416.17,405.04" fill="#000" stroke="#2e2e2e" stroke-width="0.6"/>
<polygon points="448.56,378.04 455.26,378.04 451.91,384.04" fill="#000" stroke="#2e2e2e" stroke-width="0.6"/>
<polygon points="484.29,353.8 490.99,353.8 487.64,359.8" fill="#000" stroke="#2e2e2e" stroke-width="0.6"/>
<polygon points="520.03,320.2 526.73,320.2 523.38,326.2" fill="#000" stroke="#2e2e2e" stroke-width="0.6"/>
<polygon points="344.7,408.2 347.95,413.85 341.45,413.85" fill="#fff" stroke="#2e2e2e" stroke-width="1" stroke-linejoin="miter"/>
<polygon points="380.44,405.2 383.69,410.85 377.19,410.85" fill="#fff" stroke="#2e2e2e" stroke-width="1" stroke-linejoin="miter"/>
<polygon points="416.17,392.84 419.42,398.49 412.92,398.49" fill="#fff" stroke="#2e2e2e" stroke-width="1" stroke-linejoin="miter"/>
<polygon points="451.91,371.72 455.16,377.37 448.66,377.37" fill="#fff" stroke="#2e2e2e" stroke-width="1" stroke-linejoin="miter"/>
<polygon points="487.64,351.32 490.89,356.97 484.39,356.97" fill="#fff" stroke="#2e2e2e" stroke-width="1" stroke-linejoin="miter"/>
<polygon points="523.38,278.36 526.63,284.01 520.13,284.01" fill="#fff" stroke="#2e2e2e" stroke-width="1" stroke-linejoin="miter"/>
<line x1="385" y1="289.9" x2="394.25" y2="289.9" stroke="#000" stroke-width="1.1"/>
<circle cx="389.1" cy="289.9" r="2.8" fill="#c8c8c8" stroke="#000" stroke-width="1.1"/>
<rect x="318.5" y="266.5" width="235" height="168" fill="none" stroke="#2e2e2e" stroke-width="1.25"/>
<line x1="344.7" y1="434.5" x2="344.7" y2="429.5" stroke="#2e2e2e" stroke-width="1.1"/>
<line x1="380.44" y1="434.5" x2="380.44" y2="429.5" stroke="#2e2e2e" stroke-width="1.1"/>
<line x1="416.17" y1="434.5" x2="416.17" y2="429.5" stroke="#2e2e2e" stroke-width="1.1"/>
<line x1="451.91" y1="434.5" x2="451.91" y2="429.5" stroke="#2e2e2e" stroke-width="1.1"/>
<line x1="487.64" y1="434.5" x2="487.64" y2="429.5" stroke="#2e2e2e" stroke-width="1.1"/>
<line x1="523.38" y1="434.5" x2="523.38" y2="429.5" stroke="#2e2e2e" stroke-width="1.1"/>
<text x="344.7" y="447.3" text-anchor="middle" font-family='"Liberation Serif", serif' font-size="12">0</text>
<text x="380.44" y="447.3" text-anchor="middle" font-family='"Liberation Serif", serif' font-size="12">24</text>
<text x="416.17" y="447.3" text-anchor="middle" font-family='"Liberation Serif", serif' font-size="12">48</text>
<text x="451.91" y="447.3" text-anchor="middle" font-family='"Liberation Serif", serif' font-size="12">72</text>
<text x="487.64" y="447.3" text-anchor="middle" font-family='"Liberation Serif", serif' font-size="12">96</text>
<text x="523.38" y="447.3" text-anchor="middle" font-family='"Liberation Serif", serif' font-size="12">120</text>
<line x1="553.5" y1="422.3" x2="549" y2="422.3" stroke="#2e2e2e" stroke-width="1.1"/>
<text x="558.3" y="426.5" font-family='"Liberation Serif", serif' font-size="12">0.2</text>
<line x1="553.5" y1="398.3" x2="549" y2="398.3" stroke="#2e2e2e" stroke-width="1.1"/>
<text x="558.3" y="402.5" font-family='"Liberation Serif", serif' font-size="12">0.4</text>
<line x1="553.5" y1="374.3" x2="549" y2="374.3" stroke="#2e2e2e" stroke-width="1.1"/>
<text x="558.3" y="378.5" font-family='"Liberation Serif", serif' font-size="12">0.6</text>
<line x1="553.5" y1="350.3" x2="549" y2="350.3" stroke="#2e2e2e" stroke-width="1.1"/>
<text x="558.3" y="354.5" font-family='"Liberation Serif", serif' font-size="12">0.8</text>
<line x1="553.5" y1="326.3" x2="549" y2="326.3" stroke="#2e2e2e" stroke-width="1.1"/>
<text x="558.3" y="330.5" font-family='"Liberation Serif", serif' font-size="12">1.0</text>
<line x1="553.5" y1="302.3" x2="549" y2="302.3" stroke="#2e2e2e" stroke-width="1.1"/>
<text x="558.3" y="306.5" font-family='"Liberation Serif", serif' font-size="12">1.2</text>
<line x1="553.5" y1="278.3" x2="549" y2="278.3" stroke="#2e2e2e" stroke-width="1.1"/>
<text x="558.3" y="282.5" font-family='"Liberation Serif", serif' font-size="12">1.4</text>
<text x="439.1" y="468.3" text-anchor="middle" font-family='"Liberation Serif", serif' font-size="14">Time (h)</text>
<text x="327.3" y="260.4" font-family='"Liberation Sans", sans-serif' font-size="19.5" style="stroke-width:0.05px">B</text>
<text x="339.6" y="260.4" font-family='"Liberation Sans", sans-serif' font-size="19.5" style="stroke-width:0.05px">2</text>
<text transform="translate(589.4,400.6) rotate(-90)" font-family='"Liberation Serif", serif' font-size="14.0">OD<tspan dy="2.9">580nm</tspan><tspan dy="-2.9"> at </tspan><tspan dx="1">5 </tspan><tspan dy="-3.7" font-size="12.8">o</tspan><tspan dy="3.7">C</tspan></text>
<path d="M79.6,658.03 L82.37,658.13 L85.15,658.21 L87.92,658.28 L90.69,658.34 L93.46,658.38 L96.24,658.41 L99.01,658.43 L101.78,658.44 L104.55,658.43 L107.33,658.42 L110.1,658.38 L112.87,658.34 L115.64,658.28 L118.42,658.21 L121.19,658.13 L123.96,658.04 L126.73,657.93 L129.51,657.81 L132.28,657.68 L135.05,657.53 L137.82,657.37 L140.6,657.2 L143.37,657.02 L146.14,656.82 L148.92,656.61 L151.69,656.39 L154.46,656.15 L157.23,655.91 L160.01,655.65 L162.78,655.37 L165.55,655.09 L168.32,654.79 L171.1,654.48 L173.87,654.16 L176.64,653.82 L179.41,653.47 L182.19,653.11 L184.96,652.74 L187.73,652.35 L190.5,651.95 L193.28,651.54 L196.05,651.11 L198.82,650.68 L201.59,650.23 L204.37,649.76 L207.14,649.29 L209.91,648.8 L212.69,648.3 L215.46,647.78 L218.23,647.26 L221,646.72 L223.78,646.17 L226.55,645.6 L229.32,645.02 L232.09,644.43 L234.87,643.83 L237.64,643.22 L240.41,642.59 L243.18,641.95" fill="none" stroke="#2e2e2e" stroke-width="1.1"/>
<path d="M79.6,661.86 L82.37,662.43 L85.15,662.91 L87.92,663.31 L90.69,663.62 L93.46,663.84 L96.24,663.98 L99.01,664.03 L101.78,663.99 L104.55,663.87 L107.33,663.66 L110.1,663.37 L112.87,662.99 L115.64,662.53 L118.42,661.97 L121.19,661.34 L123.96,660.61 L126.73,659.8 L129.51,658.91 L132.28,657.93 L135.05,656.86 L137.82,655.71 L140.6,654.47 L143.37,653.14 L146.14,651.73 L148.92,650.23 L151.69,648.65 L154.46,646.98 L157.23,645.22 L160.01,643.38 L162.78,641.45 L165.55,639.44 L168.32,637.34 L171.1,635.15 L173.87,632.88 L176.64,630.52 L179.41,628.08 L182.19,625.55 L184.96,622.93 L187.73,620.23 L190.5,617.44 L193.28,614.56 L196.05,611.6 L198.82,608.56 L201.59,605.42 L204.37,602.21 L207.14,598.9 L209.91,595.51 L212.69,592.03 L215.46,588.47 L218.23,584.82 L221,581.09 L223.78,577.27 L226.55,573.36 L229.32,569.37 L232.09,565.29 L234.87,561.12 L237.64,556.87 L240.41,552.53 L243.18,548.11" fill="none" stroke="#2e2e2e" stroke-width="1.1"/>
<path d="M79.6,660.78 L82.37,661.13 L85.15,661.41 L87.92,661.62 L90.69,661.77 L93.46,661.85 L96.24,661.86 L99.01,661.81 L101.78,661.69 L104.55,661.5 L107.33,661.25 L110.1,660.93 L112.87,660.55 L115.64,660.09 L118.42,659.58 L121.19,658.99 L123.96,658.34 L126.73,657.62 L129.51,656.84 L132.28,655.99 L135.05,655.07 L137.82,654.09 L140.6,653.04 L143.37,651.92 L146.14,650.74 L148.92,649.49 L151.69,648.17 L154.46,646.79 L157.23,645.34 L160.01,643.83 L162.78,642.24 L165.55,640.6 L168.32,638.88 L171.1,637.1 L173.87,635.25 L176.64,633.34 L179.41,631.36 L182.19,629.31 L184.96,627.2 L187.73,625.02 L190.5,622.77 L193.28,620.46 L196.05,618.08 L198.82,615.63 L201.59,613.12 L204.37,610.54 L207.14,607.9 L209.91,605.19 L212.69,602.41 L215.46,599.56 L218.23,596.65 L221,593.67 L223.78,590.63 L226.55,587.52 L229.32,584.34 L232.09,581.1 L234.87,577.79 L237.64,574.41 L240.41,570.97 L243.18,567.46" fill="none" stroke="#2e2e2e" stroke-width="1.1"/>
<path d="M79.6,656.34 L82.37,656.9 L85.15,657.38 L87.92,657.77 L90.69,658.06 L93.46,658.26 L96.24,658.38 L99.01,658.4 L101.78,658.33 L104.55,658.17 L107.33,657.92 L110.1,657.58 L112.87,657.15 L115.64,656.63 L118.42,656.02 L121.19,655.31 L123.96,654.52 L126.73,653.63 L129.51,652.66 L132.28,651.59 L135.05,650.43 L137.82,649.19 L140.6,647.85 L143.37,646.42 L146.14,644.9 L148.92,643.29 L151.69,641.58 L154.46,639.79 L157.23,637.91 L160.01,635.94 L162.78,633.87 L165.55,631.72 L168.32,629.47 L171.1,627.13 L173.87,624.7 L176.64,622.19 L179.41,619.58 L182.19,616.88 L184.96,614.09 L187.73,611.21 L190.5,608.23 L193.28,605.17 L196.05,602.02 L198.82,598.77 L201.59,595.44 L204.37,592.01 L207.14,588.5 L209.91,584.89 L212.69,581.19 L215.46,577.4 L218.23,573.52 L221,569.55 L223.78,565.49 L226.55,561.34 L229.32,557.1 L232.09,552.77 L234.87,548.34 L237.64,543.83 L240.41,539.22 L243.18,534.53" fill="none" stroke="#2e2e2e" stroke-width="1.1"/>
<circle cx="79.6" cy="658" r="2.6" fill="#fff" stroke="#2e2e2e" stroke-width="1.05"/>
<circle cx="161.39" cy="655.67" r="2.6" fill="#fff" stroke="#2e2e2e" stroke-width="1.05"/>
<circle cx="215.92" cy="647.41" r="2.6" fill="#fff" stroke="#2e2e2e" stroke-width="1.05"/>
<circle cx="243.18" cy="642.11" r="2.6" fill="#fff" stroke="#2e2e2e" stroke-width="1.05"/>
<circle cx="79.6" cy="662.13" r="2.85" fill="#000" stroke="#2e2e2e" stroke-width="0.5"/>
<circle cx="161.39" cy="641.07" r="2.85" fill="#000" stroke="#2e2e2e" stroke-width="0.5"/>
<circle cx="215.92" cy="590.3" r="2.85" fill="#000" stroke="#2e2e2e" stroke-width="0.5"/>
<circle cx="243.18" cy="546.76" r="2.85" fill="#000" stroke="#2e2e2e" stroke-width="0.5"/>
<polygon points="76.25,658.08 82.95,658.08 79.6,664.08" fill="#000" stroke="#2e2e2e" stroke-width="0.6"/>
<polygon points="158.04,641.55 164.74,641.55 161.39,647.55" fill="#000" stroke="#2e2e2e" stroke-width="0.6"/>
<polygon points="212.57,594.78 219.27,594.78 215.92,600.78" fill="#000" stroke="#2e2e2e" stroke-width="0.6"/>
<polygon points="239.83,565.96 246.53,565.96 243.18,571.96" fill="#000" stroke="#2e2e2e" stroke-width="0.6"/>
<polygon points="79.6,653.41 82.85,659.06 76.35,659.06" fill="#fff" stroke="#2e2e2e" stroke-width="1" stroke-linejoin="miter"/>
<polygon points="161.39,629.76 164.64,635.41 158.14,635.41" fill="#fff" stroke="#2e2e2e" stroke-width="1" stroke-linejoin="miter"/>
<polygon points="215.92,576.79 219.17,582.44 212.67,582.44" fill="#fff" stroke="#2e2e2e" stroke-width="1" stroke-linejoin="miter"/>
<polygon points="243.18,529.38 246.43,535.03 239.93,535.03" fill="#fff" stroke="#2e2e2e" stroke-width="1" stroke-linejoin="miter"/>
<line x1="177.75" y1="534.75" x2="186.75" y2="534.75" stroke="#000" stroke-width="1.1"/>
<circle cx="182" cy="534.75" r="2.8" fill="#c8c8c8" stroke="#000" stroke-width="1.1"/>
<rect x="49.5" y="509.5" width="235" height="168" fill="none" stroke="#2e2e2e" stroke-width="1.25"/>
<line x1="79.6" y1="677.5" x2="79.6" y2="672.5" stroke="#2e2e2e" stroke-width="1.1"/>
<line x1="161.39" y1="677.5" x2="161.39" y2="672.5" stroke="#2e2e2e" stroke-width="1.1"/>
<line x1="215.92" y1="677.5" x2="215.92" y2="672.5" stroke="#2e2e2e" stroke-width="1.1"/>
<line x1="243.18" y1="677.5" x2="243.18" y2="672.5" stroke="#2e2e2e" stroke-width="1.1"/>
<text x="79.6" y="690.8" text-anchor="middle" font-family='"Liberation Serif", serif' font-size="12">0</text>
<text x="161.39" y="690.8" text-anchor="middle" font-family='"Liberation Serif", serif' font-size="12">24</text>
<text x="243.18" y="690.8" text-anchor="middle" font-family='"Liberation Serif", serif' font-size="12">48</text>
<line x1="49.5" y1="664.46" x2="54" y2="664.46" stroke="#2e2e2e" stroke-width="1.1"/>
<text x="45.6" y="668.06" text-anchor="end" font-family='"Liberation Serif", serif' font-size="12">0.2</text>
<line x1="49.5" y1="638.62" x2="54" y2="638.62" stroke="#2e2e2e" stroke-width="1.1"/>
<text x="45.6" y="642.22" text-anchor="end" font-family='"Liberation Serif", serif' font-size="12">0.4</text>
<line x1="49.5" y1="612.78" x2="54" y2="612.78" stroke="#2e2e2e" stroke-width="1.1"/>
<text x="45.6" y="616.38" text-anchor="end" font-family='"Liberation Serif", serif' font-size="12">0.6</text>
<line x1="49.5" y1="586.94" x2="54" y2="586.94" stroke="#2e2e2e" stroke-width="1.1"/>
<text x="45.6" y="590.54" text-anchor="end" font-family='"Liberation Serif", serif' font-size="12">0.8</text>
<line x1="49.5" y1="561.1" x2="54" y2="561.1" stroke="#2e2e2e" stroke-width="1.1"/>
<text x="45.6" y="564.7" text-anchor="end" font-family='"Liberation Serif", serif' font-size="12">1.0</text>
<line x1="49.5" y1="535.26" x2="54" y2="535.26" stroke="#2e2e2e" stroke-width="1.1"/>
<text x="45.6" y="538.86" text-anchor="end" font-family='"Liberation Serif", serif' font-size="12">1.2</text>
<text x="45.6" y="513.02" text-anchor="end" font-family='"Liberation Serif", serif' font-size="12">1.4</text>
<text x="167.3" y="709.9" text-anchor="middle" font-family='"Liberation Serif", serif' font-size="14">Time (h)</text>
<text x="52.8" y="503.8" font-family='"Liberation Sans", sans-serif' font-size="19.5" style="stroke-width:0.05px">C</text>
<path d="M73.2,490.6 V503.8" stroke="#000" stroke-width="1.9" fill="none"/>
<path d="M73.8,490.4 L72.6,492.4 C71.6,493.7 70.2,494.3 68.7,494.5" stroke="#000" stroke-width="1.6" fill="none"/>
<text transform="translate(18.2,645.7) rotate(-90)" font-family='"Liberation Serif", serif' font-size="14.3">OD<tspan dy="2.9">580nm</tspan><tspan dy="-2.9"> at </tspan><tspan dx="1">20</tspan><tspan dy="-3.7" font-size="12.8">o</tspan><tspan dy="3.7">C</tspan></text>
<path d="M348.6,658.51 L351.37,658.76 L354.13,658.99 L356.9,659.21 L359.66,659.4 L362.43,659.58 L365.2,659.73 L367.96,659.87 L370.73,659.99 L373.49,660.09 L376.26,660.18 L379.03,660.24 L381.79,660.29 L384.56,660.32 L387.33,660.33 L390.09,660.32 L392.86,660.29 L395.62,660.25 L398.39,660.18 L401.16,660.1 L403.92,660 L406.69,659.88 L409.45,659.74 L412.22,659.59 L414.99,659.41 L417.75,659.22 L420.52,659.01 L423.28,658.78 L426.05,658.53 L428.82,658.27 L431.58,657.98 L434.35,657.68 L437.12,657.36 L439.88,657.02 L442.65,656.66 L445.41,656.28 L448.18,655.89 L450.95,655.47 L453.71,655.04 L456.48,654.59 L459.24,654.12 L462.01,653.63 L464.78,653.13 L467.54,652.61 L470.31,652.06 L473.07,651.5 L475.84,650.92 L478.61,650.33 L481.37,649.71 L484.14,649.07 L486.91,648.42 L489.67,647.75 L492.44,647.06 L495.2,646.35 L497.97,645.63 L500.74,644.88 L503.5,644.12 L506.27,643.34 L509.03,642.54 L511.8,641.72" fill="none" stroke="#2e2e2e" stroke-width="1.1"/>
<path d="M348.6,659.26 L351.37,660.56 L354.13,661.74 L356.9,662.81 L359.66,663.76 L362.43,664.59 L365.2,665.31 L367.96,665.91 L370.73,666.4 L373.49,666.77 L376.26,667.02 L379.03,667.16 L381.79,667.18 L384.56,667.09 L387.33,666.88 L390.09,666.55 L392.86,666.11 L395.62,665.55 L398.39,664.87 L401.16,664.08 L403.92,663.18 L406.69,662.15 L409.45,661.02 L412.22,659.76 L414.99,658.39 L417.75,656.9 L420.52,655.3 L423.28,653.58 L426.05,651.75 L428.82,649.79 L431.58,647.73 L434.35,645.54 L437.12,643.24 L439.88,640.83 L442.65,638.3 L445.41,635.65 L448.18,632.89 L450.95,630.01 L453.71,627.01 L456.48,623.9 L459.24,620.67 L462.01,617.33 L464.78,613.87 L467.54,610.29 L470.31,606.6 L473.07,602.79 L475.84,598.87 L478.61,594.83 L481.37,590.67 L484.14,586.4 L486.91,582.01 L489.67,577.51 L492.44,572.89 L495.2,568.15 L497.97,563.3 L500.74,558.33 L503.5,553.24 L506.27,548.04 L509.03,542.73 L511.8,537.29" fill="none" stroke="#2e2e2e" stroke-width="1.1"/>
<path d="M348.6,657.38 L351.37,658.58 L354.13,659.68 L356.9,660.67 L359.66,661.55 L362.43,662.33 L365.2,663.01 L367.96,663.58 L370.73,664.05 L373.49,664.42 L376.26,664.68 L379.03,664.84 L381.79,664.89 L384.56,664.84 L387.33,664.69 L390.09,664.43 L392.86,664.07 L395.62,663.6 L398.39,663.03 L401.16,662.36 L403.92,661.58 L406.69,660.7 L409.45,659.71 L412.22,658.62 L414.99,657.43 L417.75,656.13 L420.52,654.72 L423.28,653.22 L426.05,651.61 L428.82,649.89 L431.58,648.07 L434.35,646.15 L437.12,644.13 L439.88,642 L442.65,639.76 L445.41,637.42 L448.18,634.98 L450.95,632.43 L453.71,629.78 L456.48,627.03 L459.24,624.17 L462.01,621.21 L464.78,618.14 L467.54,614.97 L470.31,611.7 L473.07,608.32 L475.84,604.83 L478.61,601.25 L481.37,597.56 L484.14,593.76 L486.91,589.86 L489.67,585.86 L492.44,581.75 L495.2,577.54 L497.97,573.23 L500.74,568.81 L503.5,564.29 L506.27,559.66 L509.03,554.93 L511.8,550.1" fill="none" stroke="#2e2e2e" stroke-width="1.1"/>
<path d="M348.6,653.16 L351.37,654.67 L354.13,656.07 L356.9,657.35 L359.66,658.53 L362.43,659.59 L365.2,660.55 L367.96,661.39 L370.73,662.12 L373.49,662.74 L376.26,663.24 L379.03,663.64 L381.79,663.93 L384.56,664.1 L387.33,664.16 L390.09,664.11 L392.86,663.95 L395.62,663.68 L398.39,663.3 L401.16,662.8 L403.92,662.2 L406.69,661.48 L409.45,660.65 L412.22,659.71 L414.99,658.66 L417.75,657.5 L420.52,656.23 L423.28,654.84 L426.05,653.35 L428.82,651.74 L431.58,650.02 L434.35,648.19 L437.12,646.25 L439.88,644.2 L442.65,642.03 L445.41,639.76 L448.18,637.37 L450.95,634.87 L453.71,632.27 L456.48,629.55 L459.24,626.71 L462.01,623.77 L464.78,620.72 L467.54,617.55 L470.31,614.27 L473.07,610.89 L475.84,607.39 L478.61,603.78 L481.37,600.05 L484.14,596.22 L486.91,592.28 L489.67,588.22 L492.44,584.05 L495.2,579.77 L497.97,575.38 L500.74,570.88 L503.5,566.27 L506.27,561.55 L509.03,556.71 L511.8,551.76" fill="none" stroke="#2e2e2e" stroke-width="1.1"/>
<circle cx="348.6" cy="658.75" r="2.6" fill="#fff" stroke="#2e2e2e" stroke-width="1.05"/>
<circle cx="389.4" cy="660.04" r="2.6" fill="#fff" stroke="#2e2e2e" stroke-width="1.05"/>
<circle cx="430.2" cy="657.58" r="2.6" fill="#fff" stroke="#2e2e2e" stroke-width="1.05"/>
<circle cx="471" cy="652.93" r="2.6" fill="#fff" stroke="#2e2e2e" stroke-width="1.05"/>
<circle cx="511.8" cy="641.3" r="2.6" fill="#fff" stroke="#2e2e2e" stroke-width="1.05"/>
<circle cx="348.6" cy="661.98" r="2.85" fill="#000" stroke="#2e2e2e" stroke-width="0.5"/>
<circle cx="389.4" cy="661.59" r="2.85" fill="#000" stroke="#2e2e2e" stroke-width="0.5"/>
<circle cx="430.2" cy="647.63" r="2.85" fill="#000" stroke="#2e2e2e" stroke-width="0.5"/>
<circle cx="471" cy="612.23" r="2.85" fill="#000" stroke="#2e2e2e" stroke-width="0.5"/>
<circle cx="511.8" cy="534.2" r="2.85" fill="#000" stroke="#2e2e2e" stroke-width="0.5"/>
<polygon points="345.25,656.89 351.95,656.89 348.6,662.89" fill="#000" stroke="#2e2e2e" stroke-width="0.6"/>
<polygon points="386.05,657.54 392.75,657.54 389.4,663.54" fill="#000" stroke="#2e2e2e" stroke-width="0.6"/>
<polygon points="426.85,647.85 433.55,647.85 430.2,653.85" fill="#000" stroke="#2e2e2e" stroke-width="0.6"/>
<polygon points="467.65,611.03 474.35,611.03 471,617.03" fill="#000" stroke="#2e2e2e" stroke-width="0.6"/>
<polygon points="508.45,546.04 515.15,546.04 511.8,552.04" fill="#000" stroke="#2e2e2e" stroke-width="0.6"/>
<polygon points="348.6,653.12 351.85,658.77 345.35,658.77" fill="#fff" stroke="#2e2e2e" stroke-width="1" stroke-linejoin="miter"/>
<polygon points="389.4,654.28 392.65,659.93 386.15,659.93" fill="#fff" stroke="#2e2e2e" stroke-width="1" stroke-linejoin="miter"/>
<polygon points="430.2,647.69 433.45,653.34 426.95,653.34" fill="#fff" stroke="#2e2e2e" stroke-width="1" stroke-linejoin="miter"/>
<polygon points="471,616.56 474.25,622.21 467.75,622.21" fill="#fff" stroke="#2e2e2e" stroke-width="1" stroke-linejoin="miter"/>
<polygon points="511.8,545.24 515.05,550.89 508.55,550.89" fill="#fff" stroke="#2e2e2e" stroke-width="1" stroke-linejoin="miter"/>
<line x1="395.25" y1="534.75" x2="404.75" y2="534.75" stroke="#000" stroke-width="1.1"/>
<circle cx="399.5" cy="534.75" r="2.8" fill="#c8c8c8" stroke="#000" stroke-width="1.1"/>
<rect x="318.5" y="509.5" width="235" height="168" fill="none" stroke="#2e2e2e" stroke-width="1.25"/>
<line x1="348.6" y1="677.5" x2="348.6" y2="672.5" stroke="#2e2e2e" stroke-width="1.1"/>
<line x1="389.4" y1="677.5" x2="389.4" y2="672.5" stroke="#2e2e2e" stroke-width="1.1"/>
<line x1="430.2" y1="677.5" x2="430.2" y2="672.5" stroke="#2e2e2e" stroke-width="1.1"/>
<line x1="471" y1="677.5" x2="471" y2="672.5" stroke="#2e2e2e" stroke-width="1.1"/>
<line x1="511.8" y1="677.5" x2="511.8" y2="672.5" stroke="#2e2e2e" stroke-width="1.1"/>
<text x="348.6" y="688.7" text-anchor="middle" font-family='"Liberation Serif", serif' font-size="12">0</text>
<text x="389.4" y="688.7" text-anchor="middle" font-family='"Liberation Serif", serif' font-size="12">24</text>
<text x="430.2" y="688.7" text-anchor="middle" font-family='"Liberation Serif", serif' font-size="12">48</text>
<text x="471" y="688.7" text-anchor="middle" font-family='"Liberation Serif", serif' font-size="12">72</text>
<text x="511.8" y="688.7" text-anchor="middle" font-family='"Liberation Serif", serif' font-size="12">96</text>
<text x="552.6" y="688.7" text-anchor="middle" font-family='"Liberation Serif", serif' font-size="12">120</text>
<line x1="553.5" y1="664.56" x2="549" y2="664.56" stroke="#2e2e2e" stroke-width="1.1"/>
<text x="558.3" y="668.76" font-family='"Liberation Serif", serif' font-size="12">0.2</text>
<line x1="553.5" y1="638.72" x2="549" y2="638.72" stroke="#2e2e2e" stroke-width="1.1"/>
<text x="558.3" y="642.92" font-family='"Liberation Serif", serif' font-size="12">0.4</text>
<line x1="553.5" y1="612.88" x2="549" y2="612.88" stroke="#2e2e2e" stroke-width="1.1"/>
<text x="558.3" y="617.08" font-family='"Liberation Serif", serif' font-size="12">0.6</text>
<line x1="553.5" y1="587.04" x2="549" y2="587.04" stroke="#2e2e2e" stroke-width="1.1"/>
<text x="558.3" y="591.24" font-family='"Liberation Serif", serif' font-size="12">0.8</text>
<line x1="553.5" y1="561.2" x2="549" y2="561.2" stroke="#2e2e2e" stroke-width="1.1"/>
<text x="558.3" y="565.4" font-family='"Liberation Serif", serif' font-size="12">1.0</text>
<line x1="553.5" y1="535.36" x2="549" y2="535.36" stroke="#2e2e2e" stroke-width="1.1"/>
<text x="558.3" y="539.56" font-family='"Liberation Serif", serif' font-size="12">1.2</text>
<text x="558.3" y="513.72" font-family='"Liberation Serif", serif' font-size="12">1.4</text>
<text x="435.6" y="707.8" text-anchor="middle" font-family='"Liberation Serif", serif' font-size="14">Time (h)</text>
<text x="324.8" y="501.7" font-family='"Liberation Sans", sans-serif' font-size="19.5" style="stroke-width:0.05px">C</text>
<text x="338.7" y="501.7" font-family='"Liberation Sans", sans-serif' font-size="19.5" style="stroke-width:0.05px">2</text>
<text transform="translate(590.9,640.8) rotate(-90)" font-family='"Liberation Serif", serif' font-size="14.0">OD<tspan dy="2.9">580nm</tspan><tspan dy="-2.9"> at </tspan><tspan dx="1">5 </tspan><tspan dy="-3.7" font-size="12.8">o</tspan><tspan dy="3.7">C</tspan></text>
</svg>
</body></html>
